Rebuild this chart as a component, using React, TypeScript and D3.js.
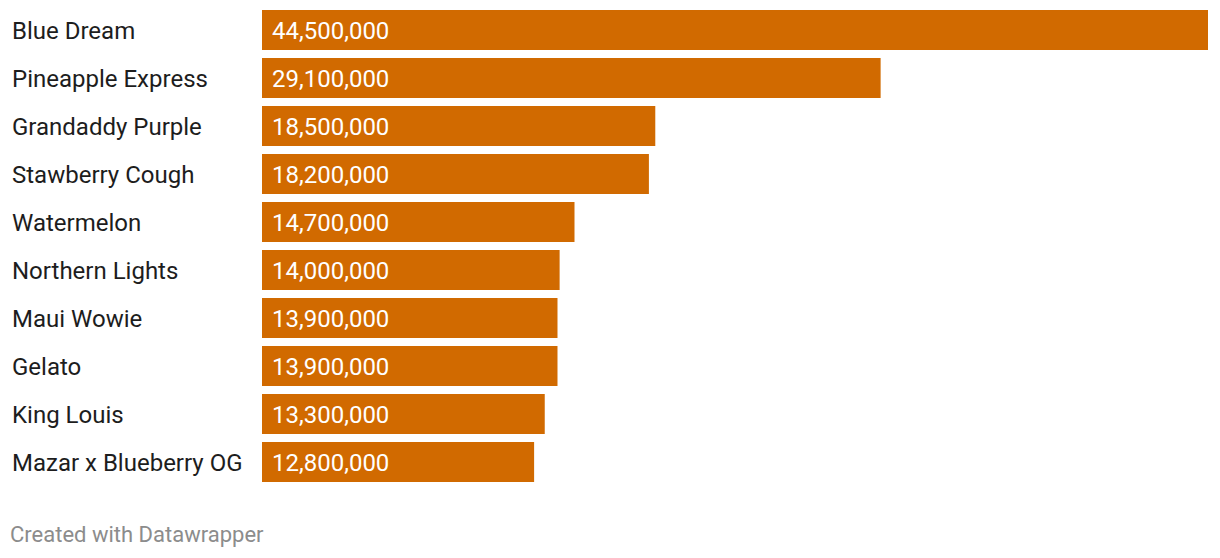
import React from "react";
import * as d3 from "d3";

const categories = [
  "Blue Dream",
  "Pineapple Express",
  "Grandaddy Purple",
  "Stawberry Cough",
  "Watermelon",
  "Northern Lights",
  "Maui Wowie",
  "Gelato",
  "King Louis",
  "Mazar x Blueberry OG",
];
const values = [44500000, 29100000, 18500000, 18200000, 14700000, 14000000, 13900000, 13900000, 13300000, 12800000];
const footerText = "Created with Datawrapper";

const W = 1220;
const H = 558;
const FONT = "Roboto, 'Noto Sans', sans-serif";

export default function App() {
  const x = d3.scaleLinear().domain([0, d3.max(values) as number]).range([262, 1208]);
  const y = d3
    .scaleBand<string>()
    .domain(categories)
    .range([6, 6 + 48 * categories.length])
    .paddingInner(8 / 48)
    .paddingOuter(4 / 48);
  const fmt = d3.format(",");
  return (
    <svg width={W} height={H} style={{ position: "absolute", left: 0, top: 0, background: "#fff" }}>
      <rect x={0} y={0} width={W} height={H} fill="#fff" />
      {categories.map((c, i) => {
        const yy = y(c) as number;
        const bh = y.bandwidth();
        return (
          <g key={c}>
            <rect x={x(0)} y={yy} width={x(values[i]) - x(0)} height={bh} fill="#d16a00" />
            <text x={12} y={yy + bh / 2} dy="0.36em" fontFamily={FONT} fontSize={24} fill="#1d1d1d">
              {c}
            </text>
            <text x={x(0) + 10} y={yy + bh / 2} dy="0.36em" fontFamily={FONT} fontSize={24} fill="#ffffff">
              {fmt(values[i])}
            </text>
          </g>
        );
      })}
      <text x={10} y={542} fontFamily={FONT} fontSize={22} fill="#8c8c8c">
        {footerText}
      </text>
    </svg>
  );
}
